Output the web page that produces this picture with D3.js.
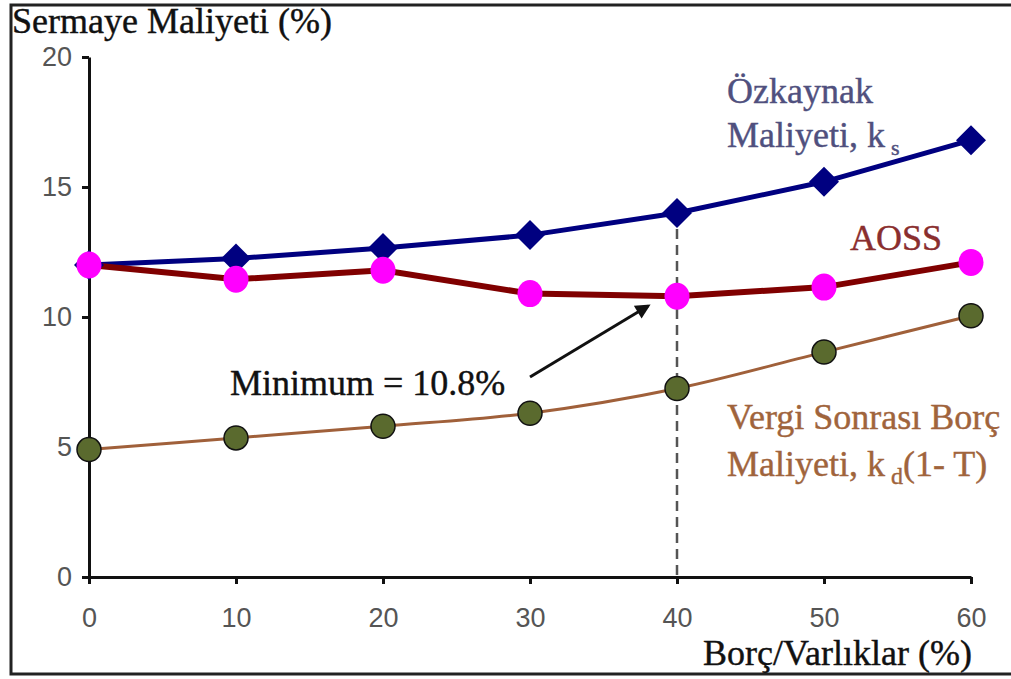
<!DOCTYPE html>
<html>
<head>
<meta charset="utf-8">
<script src="https://cdn.jsdelivr.net/npm/d3@7"></script>
<style>
  html, body { margin: 0; padding: 0; background: #fff; }
  svg { display: block; }
</style>
</head>
<body>
<svg id="chart" width="1011" height="679"></svg>
<script>
// Debt ratio (%) on the x axis
const debtRatio = [0, 10, 20, 30, 40, 50, 60];
// Cost of equity, k_s (%)
const equityCost = [12.0, 12.25, 12.65, 13.15, 14.0, 15.2, 16.8];
// Weighted average cost of capital (AOSS, %)
const waccCost = [12.0, 11.45, 11.8, 10.9, 10.8, 11.15, 12.1];
// After-tax cost of debt, k_d(1 - T) (%)
const debtCost = [4.9, 5.35, 5.8, 6.3, 7.25, 8.65, 10.05];
const xTicks = [0, 10, 20, 30, 40, 50, 60];
const yTicks = [0, 5, 10, 15, 20];
const minimumIndex = 4;

const svg = d3.select("#chart");
const x = d3.scaleLinear().domain([0, 60]).range([89, 971]);
const y = d3.scaleLinear().domain([0, 20]).range([577, 57]);

// outer frame (open on the right)
svg.append("path")
  .attr("d", "M1011,5 H11 V674 H1011")
  .attr("fill", "none").attr("stroke", "#222").attr("stroke-width", 3);

// axes
const xAxis = d3.axisBottom(x).tickValues(xTicks).tickSize(7).tickSizeOuter(0).tickPadding(24);
const yAxis = d3.axisLeft(y).tickValues(yTicks).tickSize(7).tickSizeOuter(0).tickPadding(10);

const gx = svg.append("g").attr("transform", `translate(0,${y(0)})`).call(xAxis);
const gy = svg.append("g").attr("transform", `translate(${x(0)},0)`).call(yAxis);
[gx, gy].forEach(g => {
  g.select(".domain").attr("stroke", "#111").attr("stroke-width", 3);
  g.selectAll(".tick line").attr("stroke", "#111").attr("stroke-width", 3);
  g.selectAll(".tick text")
    .attr("fill", "#555")
    .style("font-family", "'Liberation Sans', Arial, sans-serif")
    .style("font-size", "27px");
});

// dashed guide at the minimum
svg.append("line")
  .attr("x1", x(debtRatio[minimumIndex])).attr("x2", x(debtRatio[minimumIndex]))
  .attr("y1", y(equityCost[minimumIndex])).attr("y2", y(0))
  .attr("stroke", "#555").attr("stroke-width", 2.5).attr("stroke-dasharray", "10,6");

const pts = vals => vals.map((v, i) => [debtRatio[i], v]);
const straight = d3.line().x(d => x(d[0])).y(d => y(d[1]));
const smooth = d3.line().x(d => x(d[0])).y(d => y(d[1])).curve(d3.curveCatmullRom.alpha(0.5));

// after-tax debt cost
svg.append("path").attr("d", smooth(pts(debtCost)))
  .attr("fill", "none").attr("stroke", "#a0603a").attr("stroke-width", 3);
// equity cost
svg.append("path").attr("d", straight(pts(equityCost)))
  .attr("fill", "none").attr("stroke", "#000080").attr("stroke-width", 5);
// WACC
svg.append("path").attr("d", straight(pts(waccCost)))
  .attr("fill", "none").attr("stroke", "#800000").attr("stroke-width", 6);

// markers
svg.selectAll(".diamond").data(pts(equityCost)).enter().append("path")
  .attr("transform", d => `translate(${x(d[0])},${y(d[1])})`)
  .attr("d", "M0,-15 L15,0 L0,15 L-15,0 Z")
  .attr("fill", "#000080");
svg.selectAll(".debtDot").data(pts(debtCost)).enter().append("circle")
  .attr("cx", d => x(d[0])).attr("cy", d => y(d[1])).attr("r", 12)
  .attr("fill", "#5a6a2e").attr("stroke", "#111").attr("stroke-width", 1.5);
svg.selectAll(".waccDot").data(pts(waccCost)).enter().append("ellipse")
  .attr("cx", d => x(d[0])).attr("cy", d => y(d[1])).attr("rx", 12.5).attr("ry", 13.5)
  .attr("fill", "#ff00ff");

// texts
const serif = "'Liberation Serif', 'Times New Roman', serif";
function txt(t, px, py, size, color) {
  return svg.append("text").attr("x", px).attr("y", py)
    .style("font-family", serif).style("font-size", size + "px")
    .attr("fill", color).attr("stroke", color).attr("stroke-width", 0.4)
    .text(t);
}
txt("Sermaye Maliyeti (%)", 12, 33, 36, "#111");
txt("Borç/Varlıklar (%)", 703, 665, 36, "#111");
txt("Minimum = 10.8%", 230, 395, 36, "#111");
txt("Özkaynak", 727, 103, 36, "#50507e");
const ks = txt("Maliyeti, k", 727, 147, 36, "#50507e");
ks.append("tspan").attr("dx", 6).attr("dy", 8).style("font-size", "22px").text("s");
txt("AOSS", 850, 250, 36, "#8a2e2e");
txt("Vergi Sonrası Borç", 727, 429, 36, "#a0643c");
const kd = txt("Maliyeti, k", 727, 476, 36, "#a0643c");
kd.append("tspan").attr("dx", 6).attr("dy", 8).style("font-size", "24px").text("d");
kd.append("tspan").attr("dy", -8).text("(1- T)");

// arrow to the minimum
svg.append("defs").append("marker")
  .attr("id", "head").attr("viewBox", "0 0 10 10").attr("refX", 8).attr("refY", 5)
  .attr("markerWidth", 6).attr("markerHeight", 5).attr("orient", "auto")
  .append("path").attr("d", "M0,0 L10,5 L0,10 Z").attr("fill", "#111");
svg.append("line")
  .attr("x1", 530).attr("y1", 377).attr("x2", 648).attr("y2", 306)
  .attr("stroke", "#111").attr("stroke-width", 3).attr("marker-end", "url(#head)");
</script>
</body>
</html>
